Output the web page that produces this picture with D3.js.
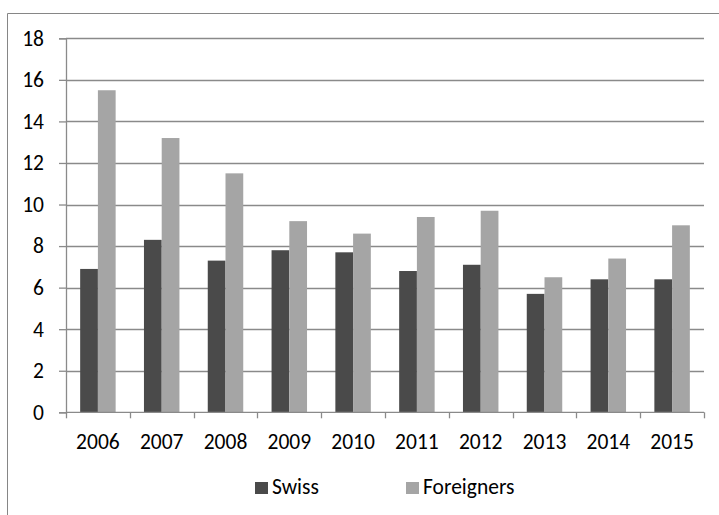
<!DOCTYPE html>
<html><head><meta charset="utf-8">
<script src="https://cdn.jsdelivr.net/npm/d3@7"></script>
<style>body{margin:0;background:#fff}svg{display:block}text{font-family:Calibri,Carlito,Lato,"Liberation Sans",Arial,sans-serif;fill:#000}</style>
</head><body>
<script>
const years = ["2006","2007","2008","2009","2010","2011","2012","2013","2014","2015"];
const seriesNames = ["Swiss","Foreigners"];
const swiss = [6.9,8.3,7.3,7.8,7.7,6.8,7.1,5.7,6.4,6.4];
const foreigners = [15.5,13.2,11.5,9.2,8.6,9.4,9.7,6.5,7.4,9.0];
const yTicks = [0,2,4,6,8,10,12,14,16,18];
const colors = ["#4a4a4a","#a5a5a5"];
const FS = "21.5px";

const W=719,H=515;
const svg=d3.select("body").append("svg").attr("width",W).attr("height",H);
svg.append("path").attr("d","M7.5,515 L7.5,13.5 L719,13.5").attr("fill","none").attr("stroke","#868686").attr("stroke-width",1);

const L=66,R=704,T=38.3,B=412.3;
const x=d3.scaleBand().domain(years).range([L,R]).paddingInner(0.444).paddingOuter(0.222);
const xs=d3.scaleBand().domain(seriesNames).range([0,x.bandwidth()]).padding(0);
const xb=d3.scaleBand().domain(years).range([L,R]).padding(0);
const y=d3.scaleLinear().domain([0,18]).range([B,T]);

svg.append("g").selectAll("line").data(yTicks.filter(d=>d>0)).join("line")
 .attr("x1",L).attr("x2",R).attr("y1",d=>Math.round(y(d))+0.5).attr("y2",d=>Math.round(y(d))+0.5)
 .attr("stroke","#8a8a8a").attr("stroke-width",1.3);

const yAxis=d3.axisLeft(y).tickValues(yTicks).tickSize(7).tickPadding(15);
const gy=svg.append("g").attr("transform",`translate(${L},0)`).call(yAxis);
gy.select(".domain").attr("stroke","#8a8a8a").attr("stroke-width",1.3);
gy.selectAll(".tick line").attr("stroke","#8a8a8a").attr("stroke-width",1.3);
gy.selectAll("text").style("font-size",FS).attr("fill","#000");

const data=years.map((yr,i)=>({yr,vals:[swiss[i],foreigners[i]]}));
const g=svg.append("g");
g.selectAll("g").data(data).join("g").attr("transform",d=>`translate(${x(d.yr)},0)`)
 .selectAll("rect").data(d=>d.vals.map((v,j)=>({v,s:seriesNames[j],j}))).join("rect")
 .attr("x",d=>xs(d.s)).attr("width",xs.bandwidth())
 .attr("y",d=>y(d.v)).attr("height",d=>y(0)-y(d.v))
 .attr("fill",d=>colors[d.j]);

const xAxis=d3.axisBottom(xb).tickSize(0).tickPadding(21);
const gx=svg.append("g").attr("transform",`translate(0,${B})`).call(xAxis);
gx.select(".domain").remove();
svg.append("line").attr("x1",L).attr("x2",R).attr("y1",B).attr("y2",B).attr("stroke","#8a8a8a").attr("stroke-width",1.3);
gx.selectAll("text").style("font-size",FS).attr("fill","#000");
const bounds=years.map(d=>xb(d)).concat([R]);
svg.append("g").selectAll("line").data(bounds).join("line")
 .attr("x1",d=>Math.round(d)+0.5).attr("x2",d=>Math.round(d)+0.5).attr("y1",B).attr("y2",B+6)
 .attr("stroke","#8a8a8a").attr("stroke-width",1.3);

const legX=[255,406];
const lg=svg.append("g");
seriesNames.forEach((s,i)=>{
  lg.append("rect").attr("x",legX[i]).attr("y",482).attr("width",13).attr("height",12).attr("fill",colors[i]);
  lg.append("text").attr("x",legX[i]+17).attr("y",494).style("font-size",FS).text(s);
});
</script>
</body></html>
